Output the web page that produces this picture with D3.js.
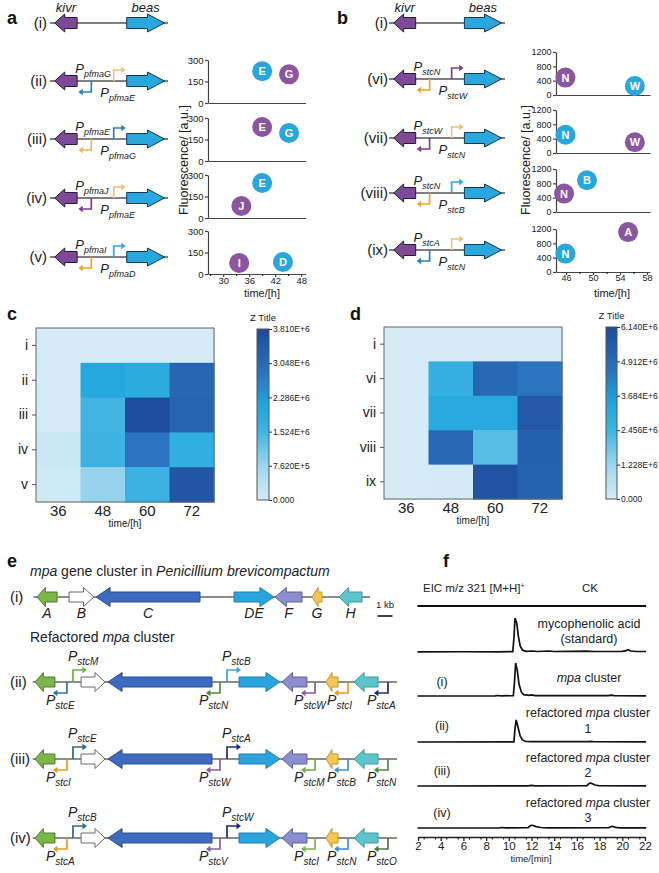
<!DOCTYPE html>
<html>
<head>
<meta charset="utf-8">
<script src="https://cdn.jsdelivr.net/npm/d3@7"></script>
<style>
  body { margin: 0; background: #fff; }
  text { font-family: "Liberation Sans", Arial, sans-serif; }
</style>
</head>
<body>
<script>
// ---- data: panel a (pfma promoters) ----
const aRowLabels = ["(i)", "(ii)", "(iii)", "(iv)", "(v)"];
const aLabelAbove = [null, "pfmaG", "pfmaE", "pfmaJ", "pfmaI"];
const aLabelBelow = [null, "pfmaE", "pfmaG", "pfmaE", "pfmaD"];
const aPoints = [
  [{id: "E", t: 39.0, f: 222, gene: "beas"}, {id: "G", t: 45.2, f: 200, gene: "kivr"}],
  [{id: "E", t: 39.0, f: 237, gene: "kivr"}, {id: "G", t: 45.2, f: 195, gene: "beas"}],
  [{id: "E", t: 39.0, f: 244, gene: "beas"}, {id: "J", t: 34.2, f: 84, gene: "kivr"}],
  [{id: "I", t: 33.7, f: 77, gene: "kivr"}, {id: "D", t: 43.8, f: 84, gene: "beas"}]
];
const aYTicks = [0, 150, 300];
const aXTicks = [30, 36, 42, 48];

// ---- data: panel b (stc promoters) ----
const bRowLabels = ["(i)", "(vi)", "(vii)", "(viii)", "(ix)"];
const bLabelAbove = [null, "stcN", "stcW", "stcN", "stcA"];
const bLabelBelow = [null, "stcW", "stcN", "stcB", "stcN"];
const bPoints = [
  [{id: "N", t: 45.9, f: 486, gene: "kivr"}, {id: "W", t: 56.2, f: 250, gene: "beas"}],
  [{id: "N", t: 45.9, f: 510, gene: "beas"}, {id: "W", t: 56.2, f: 300, gene: "kivr"}],
  [{id: "B", t: 49.1, f: 886, gene: "beas"}, {id: "N", t: 45.7, f: 514, gene: "kivr"}],
  [{id: "A", t: 55.2, f: 1114, gene: "kivr"}, {id: "N", t: 45.9, f: 514, gene: "beas"}]
];
const bYTicks = [0, 400, 800, 1200];
const bXTicks = [46, 50, 54, 58];

// construct layout (arbitrary units 0-100)
const partName = ["kivr", "beas"];
const partFrom = [4, 65];
const partTo = [23, 97];
const partDir = [-1, 1];
const promUpAt = 54, promDownAt = 35;

// ---- data: heatmaps c, d ----
const heatCols = ["36", "48", "60", "72"];
const cRows = ["i", "ii", "iii", "iv", "v"];
const cValues = [ // x1e6
  [0.02, 0.02, 0.02, 0.02],
  [0.02, 2.00, 1.90, 3.15],
  [0.02, 1.50, 3.75, 3.20],
  [0.15, 1.55, 2.85, 1.75],
  [0.10, 0.80, 1.60, 3.55]
];
const cMax = 3.81;
const dRows = ["i", "vi", "vii", "viii", "ix"];
const dValues = [
  [0.02, 0.02, 0.02, 0.02],
  [0.02, 2.75, 5.00, 4.55],
  [0.02, 3.10, 3.10, 5.60],
  [0.02, 5.00, 2.15, 5.30],
  [0.02, 0.05, 5.80, 5.20]
];
const dMax = 6.14;

// ---- data: panel e (mpa cluster, kb) ----
const nativeGenes = [
  {g: "A", s: 0.13, e: 1.47, dir: -1},
  {g: "B", s: 2.27, e: 3.93, dir: 1},
  {g: "C", s: 4.07, e: 11.0, dir: -1},
  {g: "DE", s: 13.27, e: 15.93, dir: 1},
  {g: "F", s: 16.0, e: 17.8, dir: -1},
  {g: "G", s: 18.47, e: 19.13, dir: -1},
  {g: "H", s: 20.27, e: 21.8, dir: -1}
];
const nativeSpan = [-0.1, 22.33];
const refGenes = [
  {g: "A", s: 0.0, e: 1.33, dir: -1},
  {g: "B", s: 3.07, e: 4.67, dir: 1},
  {g: "C", s: 4.87, e: 11.8, dir: -1},
  {g: "DE", s: 13.6, e: 16.33, dir: 1},
  {g: "F", s: 16.47, e: 18.13, dir: -1},
  {g: "G", s: 19.4, e: 20.2, dir: -1},
  {g: "H", s: 21.27, e: 22.87, dir: -1}
];
const refSpan = [-0.15, 24.13];
const refUpAt = [2.53, 12.8];
const refDownAt = [2.13, 12.33, 18.67, 20.87, 23.53];
const refRowLabels = ["(ii)", "(iii)", "(iv)"];
const refUpNames = [["stcM", "stcB"], ["stcE", "stcA"], ["stcB", "stcW"]];
const refDownNames = [
  ["stcE", "stcN", "stcW", "stcI", "stcA"],
  ["stcI", "stcW", "stcM", "stcB", "stcN"],
  ["stcA", "stcV", "stcI", "stcN", "stcO"]
];

// ---- data: panel f (EIC traces, time min / relative intensity) ----
const fLabels = ["CK", "standard", "(i)", "(ii)", "(iii)", "(iv)"];
const ckTrace = [[1.95, 0], [10, 0], [22.1, 0]];
const stdTrace = [[1.95, 0.5], [6, 0.8], [9, 0.5], [10.35, 1], [10.45, 40], [10.55, 100], [10.7, 85], [10.85, 45], [11.0, 18], [11.2, 6], [11.5, 2], [12.1, 3], [12.5, 1.5], [13.5, 3], [14, 1.5], [16.9, 2.5], [17.5, 1.5], [20, 2], [20.35, 4], [20.5, 7], [20.75, 3], [21.2, 1.5], [22.1, 1.5]];
const mpaTrace = [[1.95, 0], [8.8, 0.5], [9.0, 1.5], [9.3, 0.5], [10.4, 1], [10.5, 40], [10.6, 97], [10.75, 75], [10.9, 35], [11.1, 12], [11.3, 4], [11.8, 2], [12.0, 3.5], [12.3, 1], [18.8, 1], [19.0, 2.5], [19.3, 1], [22.1, 0.5]];
const ref1Trace = [[1.95, 0], [10.45, 0.5], [10.55, 40], [10.65, 65], [10.8, 45], [11.0, 18], [11.2, 6], [11.5, 1.5], [12, 1], [17, 1], [17.2, 2], [17.4, 1], [22.1, 0.5]];
const ref2Trace = [[1.95, 0], [11.7, 0.5], [12.0, 2], [12.3, 0.5], [16.9, 1], [17.05, 7], [17.2, 9], [17.4, 6], [17.6, 3], [17.9, 1], [22.1, 0.5]];
const ref3Trace = [[1.95, 0], [9.2, 0.5], [9.4, 1.5], [9.7, 0.5], [11.7, 1], [11.9, 7], [12.1, 8], [12.4, 4], [12.8, 1.5], [13.5, 0.5], [18.8, 1], [19.1, 5], [19.4, 2], [19.8, 0.5], [22.1, 0.5]];
const fTraces = [ckTrace, stdTrace, mpaTrace, ref1Trace, ref2Trace, ref3Trace];
const fTicks = [2, 4, 6, 8, 10, 12, 14, 16, 18, 20, 22];

// ---- styles ----
const geneFill = {kivr: "#7e4a97", beas: "#29a8df"};
const geneStroke = {kivr: "#2b1838", beas: "#0f3a55"};
const dotFill = {kivr: "#8b559f", beas: "#27a7de"};
const aUpCol = [null, "#f3c07f", "#2b7fc0", "#f3c07f", "#27a9e1"];
const aDownCol = [null, "#2b7fc0", "#f0b25a", "#7b3f98", "#f0a52e"];
const bUpCol = [null, "#7b3f98", "#f3c07f", "#27a9e1", "#f3c07f"];
const bDownCol = [null, "#f0a52e", "#7b3f98", "#f0a52e", "#2b7fc0"];
const mpaFill = {A: "#7cb648", B: "#ffffff", C: "#3d6cbf", DE: "#2aa4dc", F: "#8c8fcf", G: "#f6c655", H: "#5ec4cb"};
const mpaStroke = {A: "#4b7d2a", B: "#6a6a6a", C: "#2a4f93", DE: "#1d7fae", F: "#5d60a0", G: "#c4962a", H: "#379aa1"};
const refUpCol = [["#6ab344", "#3ea2d6"], ["#2a6e86", "#1c2b80"], ["#2a6e86", "#1c2b80"]];
const refDownCol = [
  ["#2f76b0", "#4a8c3c", "#8b5ba8", "#e89a20", "#1c2b80"],
  ["#e89a20", "#8b5ba8", "#6ab344", "#3a8fcc", "#4a8c3c"],
  ["#e89a20", "#8b5ba8", "#7ab648", "#3a8fcc", "#4a7c3c"]
];
const heatColor = d3.scaleLinear()
  .domain([0, 0.2, 0.4, 0.55, 0.75, 1])
  .range(["#d6ecf7", "#9dd5ef", "#3fb4e2", "#20a6dc", "#2a72be", "#1e4a9b"]);

const svg = d3.select("body").append("svg")
  .attr("width", 659).attr("height", 873);
svg.append("rect").attr("width", 659).attr("height", 873).attr("fill", "#fff");

function panelLabel(x, y, t) {
  svg.append("text").attr("x", x).attr("y", y).attr("font-size", 18)
    .attr("font-weight", "bold").attr("fill", "#111").text(t);
}

function geneArrow(x0, x1, y, dir, body, head, hl, fill, stroke) {
  let pts;
  if (dir > 0) pts = [[x0, y - body / 2], [x1 - hl, y - body / 2], [x1 - hl, y - head / 2], [x1, y], [x1 - hl, y + head / 2], [x1 - hl, y + body / 2], [x0, y + body / 2]];
  else pts = [[x1, y - body / 2], [x0 + hl, y - body / 2], [x0 + hl, y - head / 2], [x0, y], [x0 + hl, y + head / 2], [x0 + hl, y + body / 2], [x1, y + body / 2]];
  svg.append("path").attr("d", d3.line()(pts) + "Z")
    .attr("fill", fill).attr("stroke", stroke).attr("stroke-width", 1);
}

function promoter(x, y, up, color, stem, arm) {
  const s = up ? -1 : 1, d = up ? 1 : -1;
  const ty = y + s * stem, tx = x + d * arm;
  svg.append("path").attr("d", `M${x},${y}V${ty}H${tx}`)
    .attr("fill", "none").attr("stroke", color).attr("stroke-width", 1.7);
  svg.append("path").attr("d", `M${tx + d * 4},${ty}L${tx - d * 0.5},${ty - 3.2}L${tx - d * 0.5},${ty + 3.2}Z`)
    .attr("fill", color);
}

function pLabel(x, y, sub, size, subSize) {
  const t = svg.append("text").attr("x", x).attr("y", y).attr("font-style", "italic")
    .attr("font-size", size).attr("fill", "#222");
  t.append("tspan").text("P");
  t.append("tspan").attr("dy", size * 0.32).attr("font-size", subSize).text(sub);
}

// ---------- panels a, b: constructs ----------
function drawConstructs(range, rowsY, labelEnd, rowLabels, above, below, upCol, downCol) {
  const x = d3.scaleLinear().domain([0, 100]).range(range);
  rowsY.forEach((y, i) => {
    svg.append("text").attr("x", labelEnd).attr("y", y).attr("dy", "0.35em")
      .attr("text-anchor", "end").attr("font-size", 15).attr("fill", "#222").text(rowLabels[i]);
    svg.append("line").attr("x1", x(0)).attr("x2", x(100)).attr("y1", y).attr("y2", y)
      .attr("stroke", "#555").attr("stroke-width", 1.5);
    if (i > 0) {
      promoter(x(promUpAt), y, true, upCol[i], 11, 8);
      promoter(x(promDownAt), y, false, downCol[i], 11, 9);
      pLabel(x(promDownAt) - 16, y - 8, above[i], 13, 9);
      pLabel(x(promDownAt) + 9, y + 16, below[i], 13, 9);
    }
    partName.forEach((n, k) => {
      geneArrow(x(partFrom[k]), x(partTo[k]), y, partDir[k], 11, 18, n === "kivr" ? 10 : 17, geneFill[n], geneStroke[n]);
      if (i === 0) {
        svg.append("text").attr("x", (x(partFrom[k]) + x(partTo[k])) / 2).attr("y", 12)
          .attr("text-anchor", "middle").attr("font-style", "italic").attr("font-size", 13)
          .attr("fill", "#222").text(n);
      }
    });
  });
}
panelLabel(7, 24, "a");
drawConstructs([50, 168], [23, 81, 139, 198, 257], 47, aRowLabels, aLabelAbove, aLabelBelow, aUpCol, aDownCol);
panelLabel(337, 24, "b");
drawConstructs([389, 505], [23, 79, 138, 193, 250], 388, bRowLabels, bLabelAbove, bLabelBelow, bUpCol, bDownCol);

// ---------- panels a, b: scatter ----------
function drawScatter(xr, xd, yMax, yTicks, bottoms, pts, xTicks, xMinor, titleX, timeX, tickFont) {
  const x = d3.scaleLinear().domain(xd).range(xr);
  bottoms.forEach((b, i) => {
    const y = d3.scaleLinear().domain([0, yMax]).range([b, b - 43]);
    const last = i === bottoms.length - 1;
    const ya = svg.append("g").attr("transform", `translate(${xr[0]},0)`)
      .call(d3.axisLeft(y).tickValues(yTicks).tickFormat(d3.format("d")).tickSize(3).tickSizeOuter(0).tickPadding(1.5));
    const xa = svg.append("g").attr("transform", `translate(0,${b})`)
      .call(d3.axisBottom(x).tickValues(last ? xTicks : []).tickSize(3).tickSizeOuter(0).tickPadding(0));
    if (last) {
      svg.append("g").attr("transform", `translate(0,${b})`)
        .call(d3.axisBottom(x).tickValues(xMinor).tickFormat("").tickSize(2).tickSizeOuter(0))
        .select(".domain").remove();
    }
    [ya, xa].forEach(a => {
      a.attr("font-family", null).attr("font-size", tickFont);
      a.selectAll("path,line").attr("stroke", "#444").attr("stroke-width", 1.2);
      a.selectAll("text").attr("fill", "#222");
    });
    const dots = svg.append("g").selectAll("g").data(pts[i]).join("g")
      .attr("transform", d => `translate(${x(d.t)},${y(d.f)})`);
    dots.append("circle").attr("r", 10).attr("fill", d => dotFill[d.gene]);
    dots.append("text").attr("text-anchor", "middle").attr("dy", "0.36em")
      .attr("font-size", 11).attr("font-weight", "bold").attr("fill", "#fff").text(d => d.id);
  });
  svg.append("text").attr("transform", `translate(${titleX},160) rotate(-90)`)
    .attr("text-anchor", "middle").attr("font-size", 12.5).attr("fill", "#222")
    .text("Fluorescence/ [a.u.]");
  svg.append("text").attr("x", timeX).attr("y", 297).attr("text-anchor", "middle")
    .attr("font-size", 11).attr("fill", "#222").text("time/[h]");
}
drawScatter([208, 305.5], [26.5, 49], 300, aYTicks, [103, 161, 218, 274], aPoints, aXTicks, [27, 33, 39, 45], 188, 262, 9.5);
drawScatter([556, 650], [44.5, 58.45], 1200, bYTicks, [95, 153, 212, 272], bPoints, bXTicks, [48, 52, 56], 530, 612, 9);

// ---------- panels c, d: heatmaps ----------
function drawHeat(box, rows, vals, max, cb, gradId) {
  const x = d3.scaleBand().domain(heatCols).range([box.x0, box.x1]);
  const y = d3.scaleBand().domain(rows).range([box.y0, box.y1]);
  rows.forEach((r, i) => heatCols.forEach((c, j) => {
    svg.append("rect").attr("x", x(c)).attr("y", y(r))
      .attr("width", x.bandwidth() + 0.6).attr("height", y.bandwidth() + 0.6)
      .attr("fill", heatColor(vals[i][j] / max));
  }));
  svg.append("rect").attr("x", box.x0).attr("y", box.y0)
    .attr("width", box.x1 - box.x0).attr("height", box.y1 - box.y0)
    .attr("fill", "none").attr("stroke", "#666").attr("stroke-width", 1);
  const ya = svg.append("g").attr("transform", `translate(${box.x0},0)`)
    .call(d3.axisLeft(y).tickSize(4).tickSizeOuter(0).tickPadding(4));
  ya.select(".domain").remove();
  ya.attr("font-family", null).attr("font-size", 14);
  ya.selectAll("line").attr("stroke", "#555");
  ya.selectAll("text").attr("fill", "#222");
  svg.append("g").selectAll("text").data(heatCols).join("text")
    .attr("x", d => x(d) + x.bandwidth() / 2).attr("y", box.y1 + 14)
    .attr("text-anchor", "middle").attr("font-size", 15).attr("fill", "#222").text(d => d);
  svg.append("text").attr("x", (box.x0 + box.x1) / 2).attr("y", box.y1 + 25)
    .attr("text-anchor", "middle").attr("font-size", 10).attr("fill", "#222").text("time/[h]");

  // colour bar
  const grad = svg.append("defs").append("linearGradient").attr("id", gradId)
    .attr("x1", 0).attr("y1", 1).attr("x2", 0).attr("y2", 0);
  d3.range(0, 1.0001, 0.05).forEach(s => grad.append("stop").attr("offset", s).attr("stop-color", heatColor(s)));
  svg.append("rect").attr("x", cb.x0).attr("y", cb.y0).attr("width", cb.x1 - cb.x0)
    .attr("height", cb.y1 - cb.y0).attr("fill", `url(#${gradId})`)
    .attr("stroke", "#555").attr("stroke-width", 1);
  const cy = d3.scaleLinear().domain([0, max * 1e6]).range([cb.y1, cb.y0]);
  const fmt = v => v === 0 ? "0.000" : d3.format(".3e")(v).toUpperCase();
  const cTicks = [0, 0.2, 0.4, 0.6, 0.8, 1].map(f => f * max * 1e6);
  const ca = svg.append("g").attr("transform", `translate(${cb.x1},0)`)
    .call(d3.axisRight(cy).tickValues(cTicks).tickFormat(fmt).tickSize(3).tickPadding(1).tickSizeOuter(0));
  ca.select(".domain").remove();
  ca.attr("font-family", null).attr("font-size", 8.5);
  ca.selectAll("line").attr("stroke", "#333");
  ca.selectAll("text").attr("fill", "#222");
  svg.append("text").attr("x", (cb.x0 + cb.x1) / 2).attr("y", cb.y0 - 8)
    .attr("text-anchor", "middle").attr("font-size", 9.5).attr("fill", "#222").text("Z Title");
}
panelLabel(7, 320, "c");
drawHeat({x0: 36, x1: 214, y0: 328, y1: 502}, cRows, cValues, cMax, {x0: 257, x1: 269, y0: 329, y1: 500}, "gc");
panelLabel(350, 320, "d");
drawHeat({x0: 384, x1: 562, y0: 327, y1: 499}, dRows, dValues, dMax, {x0: 606, x1: 617, y0: 327, y1: 499}, "gd");

// ---------- panel e: mpa clusters ----------
panelLabel(7, 567, "e");
const ex = d3.scaleLinear().domain([0, 1]).range([35, 50]); // 1 kb = 15 px
function eTitle(y, parts) {
  const t = svg.append("text").attr("x", 30).attr("y", y).attr("font-size", 14).attr("fill", "#222");
  parts.forEach(p => t.append("tspan").attr("font-style", p[1] ? "italic" : null).text(p[0]));
}
function drawCluster(genes, span, y) {
  svg.append("line").attr("x1", ex(span[0])).attr("x2", ex(span[1])).attr("y1", y).attr("y2", y)
    .attr("stroke", "#666").attr("stroke-width", 1.5);
  genes.forEach(d => {
    const len = ex(d.e) - ex(d.s);
    geneArrow(ex(d.s), ex(d.e), y, d.dir, 10, 19, Math.min(14, Math.max(6, len * 0.42)), mpaFill[d.g], mpaStroke[d.g]);
  });
}
eTitle(576, [["mpa", true], [" gene cluster in ", false], ["Penicillium brevicompactum", true]]);
svg.append("text").attr("x", 10).attr("y", 597).attr("dy", "0.35em").attr("font-size", 15).attr("fill", "#222").text("(i)");
drawCluster(nativeGenes, nativeSpan, 597);
svg.append("g").selectAll("text").data(nativeGenes).join("text")
  .attr("x", d => (ex(d.s) + ex(d.e)) / 2).attr("y", 618)
  .attr("text-anchor", "middle").attr("font-style", "italic").attr("font-size", 14)
  .attr("fill", "#222").text(d => d.g);
svg.append("text").attr("x", ex(23.33)).attr("y", 608).attr("text-anchor", "middle")
  .attr("font-size", 9.5).attr("fill", "#222").text("1 kb");
svg.append("line").attr("x1", ex(22.83)).attr("x2", ex(23.83)).attr("y1", 616).attr("y2", 616)
  .attr("stroke", "#111").attr("stroke-width", 1.6);

eTitle(642, [["Refactored ", false], ["mpa", true], [" cluster", false]]);
[682, 759, 838].forEach((y, r) => {
  svg.append("text").attr("x", 10).attr("y", y).attr("dy", "0.35em").attr("font-size", 15)
    .attr("fill", "#222").text(refRowLabels[r]);
  drawCluster(refGenes, refSpan, y);
  refUpAt.forEach((p, k) => {
    promoter(ex(p), y, true, refUpCol[r][k], 12, 10);
    pLabel(ex(p) - 5, y - 21, refUpNames[r][k], 14, 10);
  });
  refDownAt.forEach((p, k) => {
    promoter(ex(p), y, false, refDownCol[r][k], 11, 10);
    pLabel(ex(p) - 21, y + 23, refDownNames[r][k], 14, 10);
  });
});

// ---------- panel f: EIC traces ----------
panelLabel(443, 567, "f");
const fx = d3.scaleLinear().domain([2, 22]).range([418, 645]);
const fBase = [606, 652, 696, 742, 786, 828];
const fy = d3.scaleLinear().domain([0, 100]).range([0, -34]);
svg.append("text").attr("x", 423).attr("y", 592).attr("font-size", 11.5).attr("fill", "#222")
  .text("EIC m/z 321 [M+H]").append("tspan").attr("dy", -4).attr("font-size", 7).text("+");
svg.append("text").attr("x", 582).attr("y", 592).attr("font-size", 11.5).attr("fill", "#222").text("CK");
fTraces.forEach((tr, i) => {
  svg.append("path").datum(tr)
    .attr("d", d3.line().x(d => fx(d[0])).y(d => fBase[i] + fy(d[1])))
    .attr("fill", "none").attr("stroke", "#111").attr("stroke-width", i === 0 ? 2 : 1.7);
});
function fText(x, y, parts, anchor) {
  const t = svg.append("text").attr("x", x).attr("y", y).attr("font-size", 12.5)
    .attr("fill", "#222").attr("text-anchor", anchor || "start");
  parts.forEach(p => t.append("tspan").attr("font-style", p[1] ? "italic" : null).text(p[0]));
}
fText(589, 628, [["mycophenolic acid", false]], "middle");
fText(589, 643, [["(standard)", false]], "middle");
fText(589, 682, [["mpa", true], [" cluster", false]], "middle");
[[717, 733, "1"], [762, 777, "2"], [807, 822, "3"]].forEach(r => {
  fText(588, r[0], [["refactored ", false], ["mpa", true], [" cluster", false]], "middle");
  fText(588, r[1], [[r[2], false]], "middle");
});
fLabels.slice(2).forEach((l, k) => {
  fText(442, [686, 730, 775, 817][k], [[l, false]], "middle");
});
const fa = svg.append("g").attr("transform", "translate(0,837)")
  .call(d3.axisBottom(fx).tickValues(fTicks).tickSize(4).tickPadding(1).tickSizeOuter(0));
svg.append("g").attr("transform", "translate(0,837)")
  .call(d3.axisBottom(fx).tickValues(d3.range(2.5, 22, 1)).tickFormat("").tickSize(2.5).tickSizeOuter(0))
  .select(".domain").remove();
fa.attr("font-family", null).attr("font-size", 11.5);
fa.selectAll("path,line").attr("stroke", "#222").attr("stroke-width", 1.3);
fa.selectAll("text").attr("fill", "#222");
svg.append("text").attr("x", 531).attr("y", 862).attr("text-anchor", "middle")
  .attr("font-size", 9.5).attr("fill", "#222").text("time/[min]");
</script>
</body>
</html>
